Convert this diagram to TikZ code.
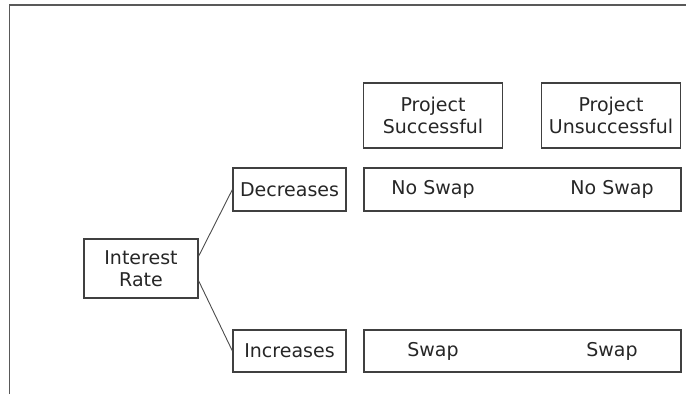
\documentclass[tikz,border=0pt]{standalone}
\usepackage{fontspec}
\setmainfont{DejaVu Sans}
\usepackage{tikz}

\begin{document}
\begin{tikzpicture}[x=1pt,y=-1pt,font=\fontsize{19}{22}\selectfont,
  box/.style={draw=black!75,line width=1.2pt,inner sep=0pt,align=center,text=black!85},
  lbl/.style={inner sep=0pt,text=black!85},
  link/.style={draw=black!70,line width=0.9pt}]
\useasboundingbox (0,0) rectangle (686,394);
\draw[black!65,line width=1.2pt] (9.5,394) -- (9.5,5) -- (686,5);
\node[box,minimum width=139pt,minimum height=65pt] (succ) at (433,115.5) {Project\\Successful};
\node[box,minimum width=139pt,minimum height=65pt] (unsucc) at (611,115.5) {Project\\Unsuccessful};
\node[box,minimum width=114pt,minimum height=59pt] (rate) at (141,268.5) {Interest\\Rate};
\node[box,minimum width=113pt,minimum height=43pt] (dec) at (289.5,189.5) {Decreases};
\node[box,minimum width=113pt,minimum height=42pt] (inc) at (289.5,351) {Increases};
\node[box,minimum width=317pt,minimum height=43pt] (decrow) at (522.5,189.5) {};
\node[box,minimum width=317pt,minimum height=42pt] (incrow) at (522.5,351) {};
\foreach \name/\x/\y/\txt in {noswapA/433/189.5/No Swap, noswapB/612/189.5/No Swap,
  swapA/433/351/Swap, swapB/612/351/Swap}
  \node[lbl] (\name) at (\x,\y) {\txt};
\draw[link] (rate.12) -- (dec.west);
\draw[link] (rate.-12) -- (inc.west);
\end{tikzpicture}
\end{document}
